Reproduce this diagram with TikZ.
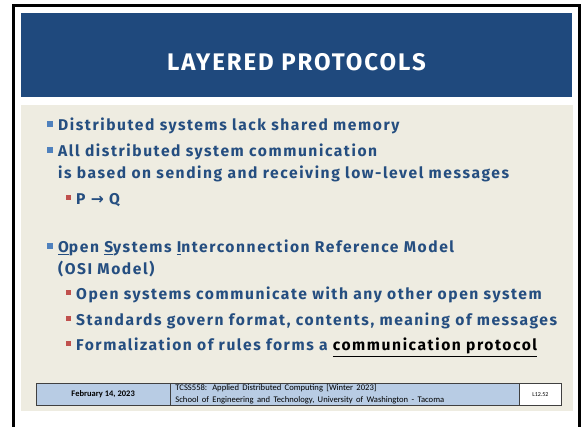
\documentclass[tikz,border=0pt]{standalone}
\usepackage{fontspec}
\setmainfont{Fira Sans}
\newfontfamily\bodyfont{Fira Sans}[LetterSpace=10]
\newfontfamily\titlefont{Fira Sans}[LetterSpace=8]
\newfontfamily\footfont{Carlito}
\newfontfamily\symfont{DejaVu Sans}
\definecolor{bandblue}{HTML}{1F497D}
\definecolor{paper}{HTML}{EEECE1}
\definecolor{bodyblue}{HTML}{254E80}
\definecolor{bulletblue}{HTML}{4F81BD}
\definecolor{bulletred}{HTML}{C0504D}
\definecolor{footblue}{HTML}{B8CCE4}
\definecolor{cellline}{HTML}{404040}
\tikzset{
  titletext/.style={text=white, font=\titlefont\fontsize{24}{27}\selectfont\bfseries, inner sep=0pt},
  bodytext/.style={text=bodyblue, font=\bodyfont\fontsize{15.6}{18}\selectfont\bfseries, anchor=base west, inner sep=0pt},
  sqone/.style={fill=bulletblue, minimum size=6pt, inner sep=0pt, draw=none},
  sqtwo/.style={fill=bulletred, minimum size=5pt, inner sep=0pt, draw=none},
  cell/.style={draw=cellline, line width=0.8pt, anchor=north west, inner sep=0pt, minimum height=22pt},
}
\begin{document}
\begin{tikzpicture}[x=1pt,y=-1pt]
\clip (0,0) rectangle (584,427);
\fill[white] (0,0) rectangle (584,427);
% slide frame (open at the bottom edge)
\draw[line width=3pt] (13.5,5.5) rectangle (579.5,450);
% title band and body area
\fill[bandblue] (21,13) rectangle (572,97);
\fill[paper] (21,105) rectangle (573,411);
\node[titletext] (title) at (296.5,62) {LAYERED PROTOCOLS};

% first-level bullets
\node[sqone] (s1) at (49.5,124) {};
\node[bodytext] (t1) at (58,131) {Distributed systems lack shared memory};
\node[sqone] (s2) at (49.5,150) {};
\node[bodytext] (t2) at (58,157) {All distributed system communication};
\node[bodytext] (t2b) at (58,179) {is based on sending and receiving low-level messages};
\node[sqtwo] (s3) at (68,198) {};
\node[bodytext] (t3) at (76,205) {P {\symfont\bfseries →} Q};

\node[sqone] (s4) at (49.5,246) {};
\node[bodytext] (t4) at (58,253) {\underline{O}pen \underline{S}ystems \underline{I}nterconnection Reference Model};
\node[bodytext] (t4b) at (58,275) {(OSI Model)};
\node[sqtwo] (s5) at (68,293) {};
\node[bodytext] (t5) at (76,300) {Open systems communicate with any other open system};
\node[sqtwo] (s6) at (68,319) {};
\node[bodytext] (t6) at (76,326) {Standards govern format, contents, meaning of messages};
\node[sqtwo] (s7) at (68,344) {};
\node[bodytext] (t7) at (76,351) {Formalization of rules forms a {\color{black}\underline{communication protocol}}};

% footer table
\node[cell, fill=footblue, minimum width=134.5pt] (date) at (35.5,383)
  {\footfont\fontsize{8.5}{10}\selectfont\bfseries February 14, 2023};
\node[cell, fill=footblue, minimum width=349pt, text width=339pt, align=left] (course) at (170,383)
  {\footfont\fontsize{8.6}{9.4}\selectfont TCSS558: Applied Distributed Computing [Winter 2023]\\School of Engineering and Technology, University of Washington - Tacoma};
\node[cell, fill=white, minimum width=42pt] (page) at (519,383)
  {\footfont\fontsize{6}{7}\selectfont L12.52};
\end{tikzpicture}
\end{document}
